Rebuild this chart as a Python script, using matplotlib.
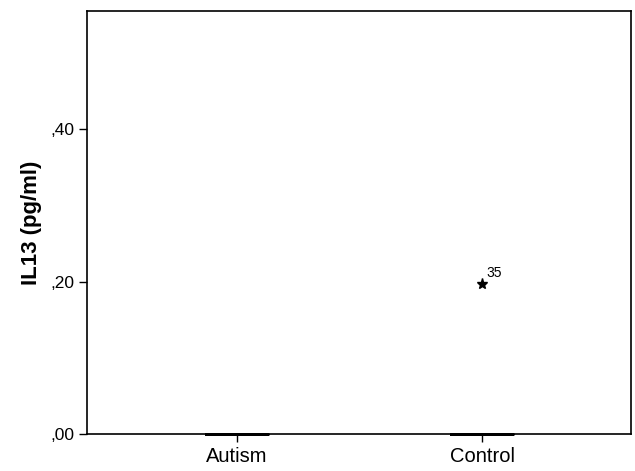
import matplotlib.pyplot as plt

plt.rcParams['font.family'] = ['Liberation Sans', 'DejaVu Sans']

# IL13 by group: boxes collapse to zero, one extreme value in the control group
groups = ['Autism', 'Control']
medians = [0.0, 0.0]
q1 = [0.0, 0.0]
q3 = [0.0, 0.0]
whis_lo = [0.0, 0.0]
whis_hi = [0.0, 0.0]
extremes = [[], [0.197]]
extreme_ids = [[], ['35']]

yticks = [0.0, 0.2, 0.4]
ytick_labels = [',00', ',20', ',40']

stats = []
for i, name in enumerate(groups):
    stats.append(dict(label=name, med=medians[i], q1=q1[i], q3=q3[i],
                      whislo=whis_lo[i], whishi=whis_hi[i], fliers=extremes[i]))

fig = plt.figure(figsize=(6.35, 4.71), dpi=100)
ax = fig.add_axes([0.137, 0.0786, 0.8567, 0.898])

art = ax.bxp(stats, positions=[1, 2], widths=0.25, patch_artist=False,
             boxprops=dict(color='black', linewidth=1.8),
             medianprops=dict(color='black', linewidth=1.8,
                              solid_capstyle='butt'),
             whiskerprops=dict(color='black', linewidth=1),
             capprops=dict(color='black', linewidth=1),
             flierprops=dict(marker='*', markersize=8, markerfacecolor='black',
                             markeredgecolor='black', linestyle='none'))
for key in ('boxes', 'medians', 'whiskers', 'caps'):
    for line in art[key]:
        line.set_clip_on(False)
        line.set_zorder(5)

for i, vals in enumerate(extremes):
    for v, lab in zip(vals, extreme_ids[i]):
        ax.annotate(lab, (i + 1, v), xytext=(3, 5), textcoords='offset points',
                    fontsize=10)

ax.set_xlim(0.388, 2.608)
ax.set_ylim(0, 0.555)
ax.set_yticks(yticks)
ax.set_yticklabels(ytick_labels, fontsize=12.5)
ax.set_xticks([1, 2])
ax.set_xticklabels(groups, fontsize=14.5)
ax.tick_params(direction='out', length=6, width=1, color='black')
ax.tick_params(axis='y', pad=3)
ax.set_ylabel('IL13 (pg/ml)', fontsize=16, fontweight='bold', labelpad=6)
for s in ax.spines.values():
    s.set_linewidth(1.2)

fig.savefig('out.png', dpi=100)
